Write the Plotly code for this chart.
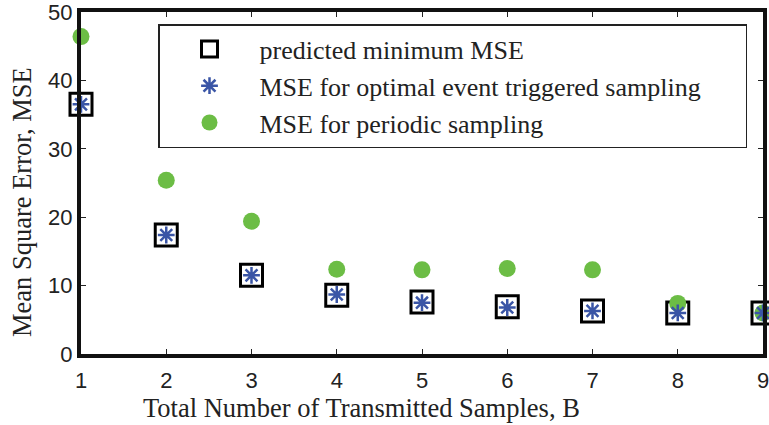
import plotly.graph_objects as go

B = [1, 2, 3, 4, 5, 6, 7, 8, 9]
predicted_mse = [36.5, 17.4, 11.5, 8.6, 7.6, 6.9, 6.3, 6.0, 6.0]
event_mse = [36.5, 17.4, 11.5, 8.7, 7.5, 6.8, 6.3, 6.0, 6.0]
periodic_mse = [46.4, 25.4, 19.4, 12.4, 12.3, 12.5, 12.3, 7.4, 6.0]
y_ticks = [0, 10, 20, 30, 40, 50]

serif = "Liberation Serif, Times New Roman, serif"
sans = "Liberation Sans, Arial, sans-serif"

W, H = 769, 425
L, T, R, Bm = 81, 12, 6, 71
pw = W - L - R
ph = H - T - Bm

fig = go.Figure()
fig.add_trace(go.Scatter(
    x=B, y=predicted_mse, mode="markers", name="predicted minimum MSE",
    marker=dict(symbol="square-open", size=22, color="black", line=dict(width=3, color="black")),
    cliponaxis=False, legendrank=1))
fig.add_trace(go.Scatter(
    x=B, y=periodic_mse, mode="markers", name="MSE for periodic sampling",
    marker=dict(symbol="circle", size=17, color="#6cbd45"),
    cliponaxis=False, legendrank=3))
fig.add_trace(go.Scatter(
    x=B, y=event_mse, mode="markers",
    name="MSE for optimal event triggered sampling" + "\u00a0" * 6,
    marker=dict(symbol="asterisk-open", size=14, color="#3a55a6", line=dict(width=2.5, color="#3a55a6")),
    cliponaxis=False, legendrank=2))

fig.update_layout(
    width=W, height=H,
    margin=dict(l=L, r=R, t=T, b=Bm, autoexpand=False),
    paper_bgcolor="white", plot_bgcolor="white",
    showlegend=True,
    legend=dict(
        x=(158 - L) / pw, y=(354 - 24) / ph, xanchor="left", yanchor="top",
        bgcolor="white", bordercolor="#222", borderwidth=1.5,
        font=dict(family=serif, size=26, color="#222"),
        itemwidth=90, itemsizing="trace",
    ),
    xaxis=dict(
        range=[1, 9], tickvals=B, ticks="inside", ticklen=5, tickwidth=1,
        tickcolor="#222", showline=True, linecolor="#111", linewidth=4,
        mirror="ticks", showgrid=False, zeroline=False, automargin=False,
        ticklabeloverflow="allow", ticklabelstandoff=4,
        tickfont=dict(family=sans, size=22, color="#222"),
    ),
    yaxis=dict(
        range=[0, 50], tickvals=y_ticks, ticks="inside", ticklen=5, tickwidth=1,
        tickcolor="#222", showline=True, linecolor="#111", linewidth=4,
        mirror="ticks", showgrid=False, zeroline=False, automargin=False,
        ticklabeloverflow="allow",
        tickfont=dict(family=sans, size=22, color="#222"),
    ),
    annotations=[
        dict(text="Total Number of Transmitted Samples, B", xref="paper", yref="paper",
             x=(361 - L) / pw, y=-(408 - 354) / ph, xanchor="center", yanchor="middle",
             showarrow=False, font=dict(family=serif, size=26.5, color="#222")),
        dict(text="Mean Square Error, MSE", xref="paper", yref="paper",
             x=(22 - L) / pw, y=(354 - 202) / ph, xanchor="center", yanchor="middle",
             textangle=-90, showarrow=False, font=dict(family=serif, size=26.5, color="#222")),
    ],
)

fig.write_html("out.html", config={"displayModeBar": False},
               post_script="document.body.style.margin='0';")
